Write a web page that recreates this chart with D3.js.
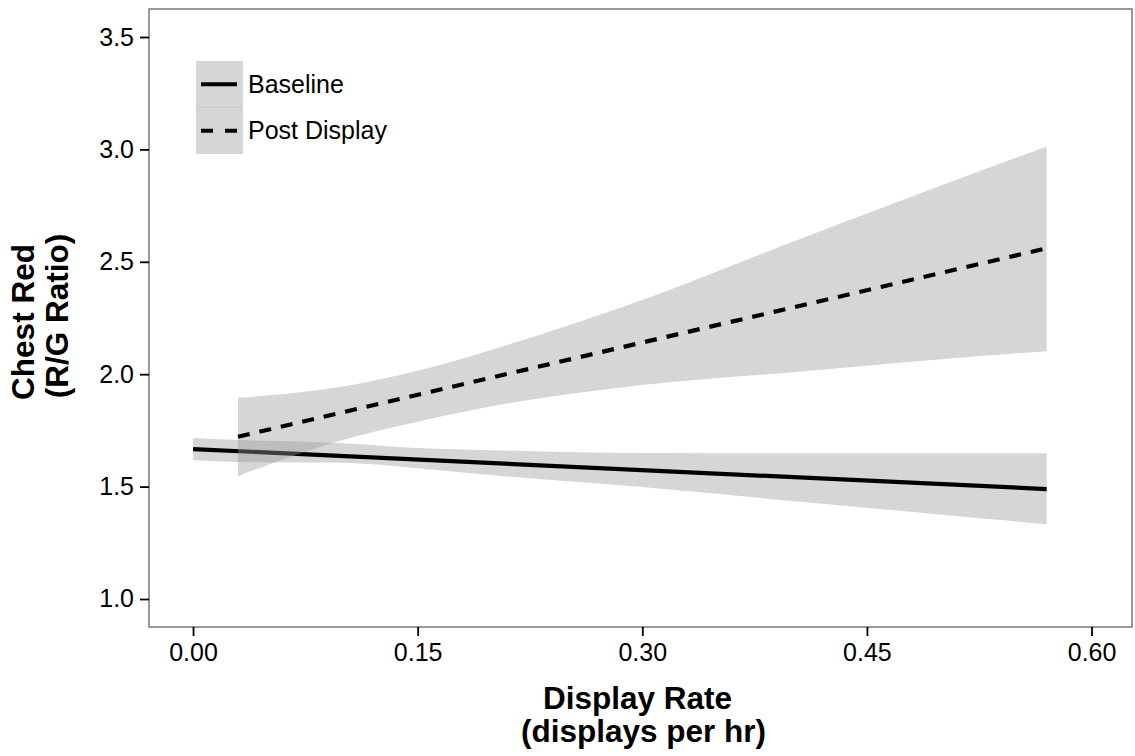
<!DOCTYPE html>
<html>
<head>
<meta charset="utf-8">
<script src="https://cdn.jsdelivr.net/npm/d3@7"></script>
<style>
  body { margin: 0; background: #fff; }
  text { font-family: "Liberation Sans", Arial, Helvetica, sans-serif; }
</style>
</head>
<body>
<div id="chart_root"></div>
<script>
// data
const baseRibbonX = [0, 0.03, 0.1, 0.15, 0.2, 0.3, 0.4, 0.5, 0.57];
const baseLower = [1.618, 1.609, 1.606, 1.582, 1.551, 1.498, 1.436, 1.375, 1.333];
const baseUpper = [1.716, 1.707, 1.693, 1.672, 1.662, 1.649, 1.648, 1.648, 1.648];
const baseLineX = [0, 0.57];
const baseLineY = [1.667, 1.489];

const postRibbonX = [0.03, 0.1, 0.15, 0.2, 0.3, 0.4, 0.5, 0.57];
const postLower = [1.547, 1.707, 1.788, 1.858, 1.952, 2.009, 2.067, 2.102];
const postUpper = [1.895, 1.945, 2.015, 2.11, 2.33, 2.588, 2.84, 3.013];
const postLineX = [0.03, 0.57];
const postLineY = [1.722, 2.56];

const legendLabels = ["Baseline", "Post Display"];
const xTicks = [0, 0.15, 0.3, 0.45, 0.6];
const yTicks = [1.0, 1.5, 2.0, 2.5, 3.0, 3.5];

const width = 1135;
const height = 756;
const panel = { left: 149, right: 1132, top: 9, bottom: 627 };

const svg = d3
  .select("#chart_root")
  .append("svg")
  .attr("width", width)
  .attr("height", height);

//scales
var xScale = d3
  .scaleLinear()
  .domain([-0.0294, 0.627])
  .range([panel.left, panel.right]);
var yScale = d3
  .scaleLinear()
  .domain([0.8754, 3.6246])
  .range([panel.bottom, panel.top]);

const zip = (xs, a, b) => xs.map((x, i) => ({ x: x, lo: a[i], hi: b ? b[i] : null }));

const area = d3
  .area()
  .x((d) => xScale(d.x))
  .y0((d) => yScale(d.lo))
  .y1((d) => yScale(d.hi))
  .curve(d3.curveMonotoneX);
const line = d3
  .line()
  .x((d) => xScale(d.x))
  .y((d) => yScale(d.lo));

const plot = svg.append("g");

// baseline group: ribbon then line
plot
  .append("path")
  .datum(zip(baseRibbonX, baseLower, baseUpper))
  .attr("fill", "#999999")
  .attr("fill-opacity", 0.4)
  .attr("d", area);
plot
  .append("path")
  .datum(zip(baseLineX, baseLineY))
  .attr("fill", "none")
  .attr("stroke", "#000")
  .attr("stroke-width", 4.2)
  .attr("d", line);

// post display group
plot
  .append("path")
  .datum(zip(postRibbonX, postLower, postUpper))
  .attr("fill", "#999999")
  .attr("fill-opacity", 0.4)
  .attr("d", area);
plot
  .append("path")
  .datum(zip(postLineX, postLineY))
  .attr("fill", "none")
  .attr("stroke", "#000")
  .attr("stroke-width", 4.2)
  .attr("stroke-dasharray", "12,10")
  .attr("d", line);

// panel border
svg
  .append("rect")
  .attr("x", panel.left)
  .attr("y", panel.top)
  .attr("width", panel.right - panel.left)
  .attr("height", panel.bottom - panel.top)
  .attr("fill", "none")
  .attr("stroke", "#7f7f7f")
  .attr("stroke-width", 1.6);

// axes
var yAxis = svg
  .append("g")
  .attr("transform", "translate(" + panel.left + ",0)")
  .call(
    d3.axisLeft(yScale).tickValues(yTicks).tickFormat(d3.format(".1f")).tickSize(9).tickPadding(6)
  );
var xAxis = svg
  .append("g")
  .attr("transform", "translate(0," + panel.bottom + ")")
  .call(
    d3.axisBottom(xScale).tickValues(xTicks).tickFormat(d3.format(".2f")).tickSize(9).tickPadding(7)
  );
[xAxis, yAxis].forEach((ax) => {
  ax.select(".domain").remove();
  ax.selectAll(".tick line").attr("stroke", "#000").attr("stroke-width", 1.8);
  ax.selectAll(".tick text")
    .attr("fill", "#000")
    .style("font-size", "25px")
    .style("font-family", '"Liberation Sans", Arial, sans-serif');
});

// axis titles
const midX = (panel.left + panel.right) / 2;
const xTitle = svg
  .append("text")
  .attr("text-anchor", "middle")
  .attr("font-weight", "bold")
  .style("font-size", "31.5px");
xTitle.append("tspan").attr("x", midX - 3).attr("y", 709).text("Display Rate");
xTitle.append("tspan").attr("x", midX + 3).attr("y", 742).text("(displays per hr)");

const yMid = (panel.top + panel.bottom) / 2;
const yTitle = svg
  .append("text")
  .attr("text-anchor", "middle")
  .attr("font-weight", "bold")
  .style("font-size", "31.5px")
  .attr("transform", "rotate(-90)");
yTitle.append("tspan").attr("x", -yMid - 4).attr("y", 34).text("Chest Red");
yTitle.append("tspan").attr("x", -yMid + 2).attr("y", 68).text("(R/G Ratio)");

// legend
const legend = svg.append("g").attr("transform", "translate(196,61)");
const keySize = 46.5;
legendLabels.forEach((lab, i) => {
  const k = legend.append("g").attr("transform", "translate(0," + i * keySize + ")");
  k.append("rect")
    .attr("width", 47)
    .attr("height", keySize)
    .attr("fill", "#999999")
    .attr("fill-opacity", 0.4);
  k.append("line")
    .attr("x1", 5)
    .attr("x2", 41)
    .attr("y1", keySize / 2)
    .attr("y2", keySize / 2)
    .attr("stroke", "#000")
    .attr("stroke-width", 4.2)
    .attr("stroke-dasharray", i === 1 ? "12,12" : null);
  k.append("text")
    .attr("x", 52)
    .attr("y", keySize / 2 + 8.7)
    .style("font-size", "25px")
    .text(lab);
});
legend
  .append("line")
  .attr("x1", 0)
  .attr("x2", 47)
  .attr("y1", keySize)
  .attr("y2", keySize)
  .attr("stroke", "#c9c9c9")
  .attr("stroke-width", 1);
</script>
</body>
</html>
